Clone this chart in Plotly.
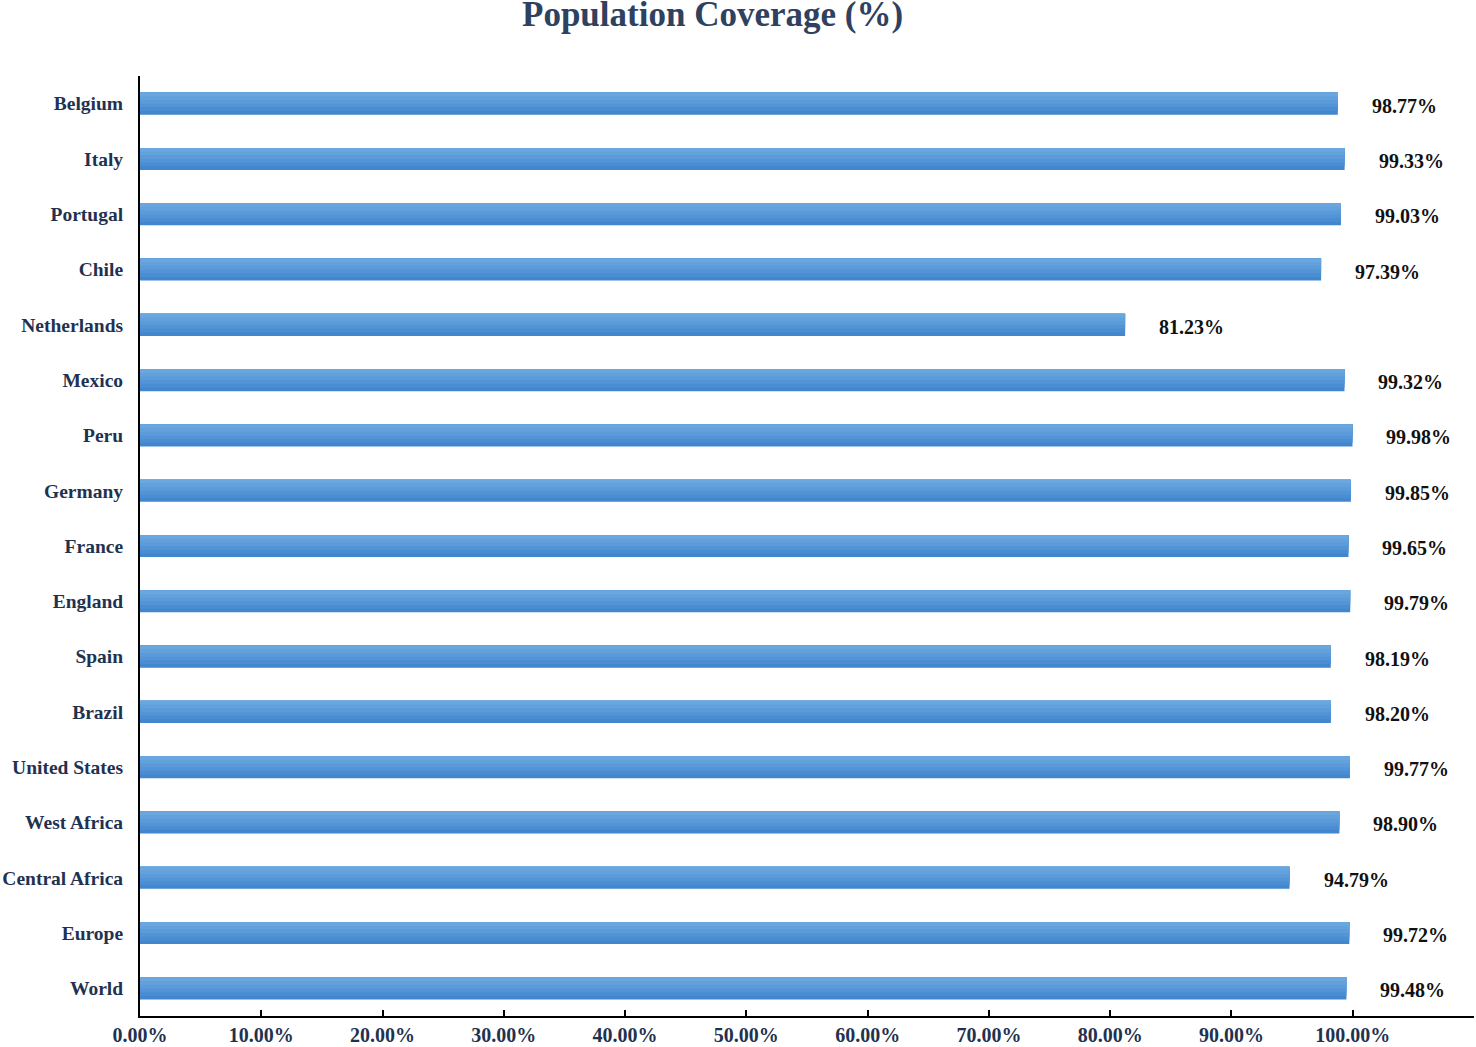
import plotly.graph_objects as go

# data, top to bottom as in the chart
regions = ["Belgium", "Italy", "Portugal", "Chile", "Netherlands", "Mexico", "Peru",
           "Germany", "France", "England", "Spain", "Brazil", "United States",
           "West Africa", "Central Africa", "Europe", "World"]
coverage = [98.77, 99.33, 99.03, 97.39, 81.23, 99.32, 99.98, 99.85, 99.65, 99.79,
            98.19, 98.20, 99.77, 98.90, 94.79, 99.72, 99.48]
tick_vals = [0, 10, 20, 30, 40, 50, 60, 70, 80, 90, 100, 110]
tick_text = ["0.00%", "10.00%", "20.00%", "30.00%", "40.00%", "50.00%", "60.00%",
             "70.00%", "80.00%", "90.00%", "100.00%", ""]

serif = "Liberation Serif, Times New Roman, serif"
navy = "#1f3250"

fig = go.Figure()

# fake a vertical gradient: widest darkest bar first, then narrower lighter ones
# anchored at the top edge, so the bands overlap and leave no seams
bands = ["#4286ce", "#4a8dd2", "#5294d6", "#5b9bd9", "#63a1dc", "#6ba7df"]
bar_w = 0.4
n = len(bands)
for i, col in enumerate(bands):
    w = bar_w * (n - i) / n
    fig.add_trace(go.Bar(
        x=coverage, y=regions, orientation="h",
        width=w, offset=-bar_w / 2,
        marker=dict(color=col, line=dict(width=0)),
        hoverinfo="skip" if i else None,
        showlegend=False,
    ))

for r, v in zip(regions, coverage):
    fig.add_annotation(x=v, y=r, text="<b>{:.2f}%</b>".format(v), showarrow=False,
                       xanchor="left", xshift=32, yshift=-2,
                       font=dict(family=serif, size=20, color="#111111"))

# title as an annotation so it can sit right at the top edge like the original
fig.add_annotation(text="<b>Population Coverage (%)</b>", xref="paper", yref="paper",
                   x=0.4295, y=1, xanchor="center", yanchor="middle", yshift=62,
                   showarrow=False,
                   font=dict(family=serif, size=35, color="#2f4160"))

fig.update_layout(
    barmode="overlay",
    width=1476, height=1047,
    margin=dict(l=140, r=2, t=76, b=31, autoexpand=False),
    paper_bgcolor="white", plot_bgcolor="white",
    font=dict(family=serif, color=navy),
)
fig.update_xaxes(range=[0, 110], tickvals=tick_vals, ticktext=tick_text,
                 automargin=False,
                 showgrid=False, zeroline=False, showline=True, linecolor="black",
                 linewidth=2, ticks="inside", ticklen=6, tickwidth=2, tickcolor="black",
                 ticklabelstandoff=0,
                 tickfont=dict(family=serif, size=20, color=navy, weight="bold"))
fig.update_yaxes(autorange="reversed", automargin=False,
                 showgrid=False, zeroline=False, showline=True,
                 linecolor="black", linewidth=2, ticks="", ticklabelstandoff=11,
                 tickfont=dict(family=serif, size=19.5, color=navy, weight="bold"))

# drop the page's default 8px body margin so the figure fills the window exactly
fig.write_html("out.html", config={"displayModeBar": False},
               post_script="document.body.style.margin='0';")
